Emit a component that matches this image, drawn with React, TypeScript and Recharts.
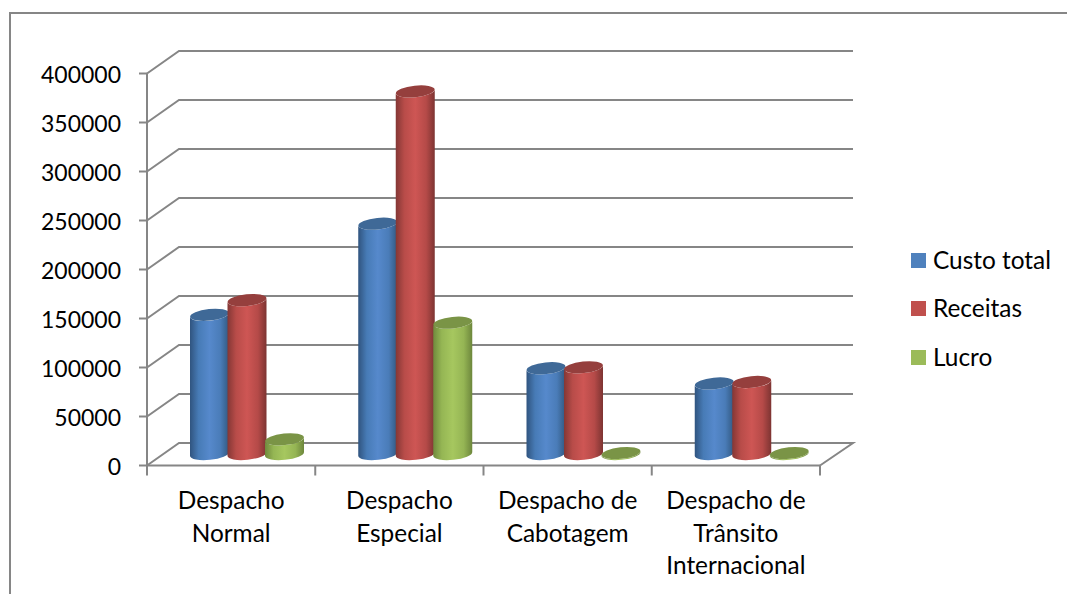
import React from "react";
import { BarChart, Bar, XAxis, YAxis, CartesianGrid, Legend } from "recharts";

const categories = ["Despacho Normal", "Despacho Especial", "Despacho de Cabotagem", "Despacho de Trânsito Internacional"];
const categoryLines = [
  ["Despacho", "Normal"],
  ["Despacho", "Especial"],
  ["Despacho de", "Cabotagem"],
  ["Despacho de", "Trânsito", "Internacional"],
];
const custoTotal = [142000, 235000, 87500, 72000];
const receitas = [157000, 370000, 88500, 73500];
const lucro = [15000, 134000, 1000, 1000];
const yTicks = [0, 50000, 100000, 150000, 200000, 250000, 300000, 350000, 400000];

const data = categories.map((name, i) => ({
  name,
  custo: custoTotal[i],
  receitas: receitas[i],
  lucro: lucro[i],
}));

const W = 1067;
const H = 594;
const PLOT_LEFT = 147;
const PLOT_RIGHT = 820;
const PLOT_TOP = 73.5;
const PLOT_BOTTOM = 465.5;
const LEGEND_W = 150;
const BAND = (PLOT_RIGHT - PLOT_LEFT) / categories.length;
const AXIS = "#868686";
const FONT = "Lato, Carlito, sans-serif";
const FS = 23;
const FS_TEXT = 24.4;

const palette = {
  blue: { id: "gBlue", main: "#4F81BD", top: "#3F6997", stops: ["#30547f", "#477bb6", "#5689cc", "#4a7cb8", "#325880"] },
  red: { id: "gRed", main: "#C0504D", top: "#953F3D", stops: ["#843735", "#b84c49", "#ce5654", "#b54a48", "#7d3432"] },
  green: { id: "gGreen", main: "#9BBB59", top: "#7A9446", stops: ["#6f8a3d", "#95b654", "#a6c75f", "#95b554", "#6d873c"] },
};

function Cylinder(props: any) {
  const { x, y, width, height, tone } = props;
  const p = palette[tone as keyof typeof palette];
  const rx = width / 2;
  const ry = 5.8;
  const rot = -6;
  const dy = rx * Math.sin((6 * Math.PI) / 180);
  const xl = x + 16;
  const xr = xl + width;
  const yt = y - 11.5;
  const yb = y + height - 11.5;
  const body = `M${xl},${yt + dy} L${xl},${yb + dy} A${rx},${ry} ${rot} 0 0 ${xr},${yb - dy} L${xr},${yt - dy} A${rx},${ry} ${rot} 0 1 ${xl},${yt + dy} Z`;
  return (
    <g>
      <path d={body} fill={`url(#${p.id})`} />
      <ellipse cx={xl + rx} cy={yt} rx={rx} ry={ry} fill={p.top} transform={`rotate(${rot} ${xl + rx} ${yt})`} />
    </g>
  );
}

function WallLine(props: any) {
  const { x1, x2, y1 } = props;
  const bx = x1 + 32;
  const by = y1 - 22.5;
  const isFloor = Math.abs(y1 - PLOT_BOTTOM) < 1;
  const d = `M${x1},${y1} L${bx},${by} L${x2 + 33},${by}` + (isFloor ? ` L${x2},${y1}` : "");
  return <path d={d} fill="none" stroke={AXIS} strokeWidth={2} />;
}

function CategoryTick(props: any) {
  const { x, index } = props;
  const lines = categoryLines[index] || [];
  const last = index === categories.length - 1;
  return (
    <g>
      <line x1={x - BAND / 2} x2={x - BAND / 2} y1={PLOT_BOTTOM} y2={PLOT_BOTTOM + 10} stroke={AXIS} strokeWidth={2} />
      {last && <line x1={x + BAND / 2} x2={x + BAND / 2} y1={PLOT_BOTTOM} y2={PLOT_BOTTOM + 10} stroke={AXIS} strokeWidth={2} />}
      <text x={x} textAnchor="middle" fontFamily={FONT} fontSize={FS_TEXT} fill="#000">
        {lines.map((l: string, i: number) => (
          <tspan key={i} x={x} y={PLOT_BOTTOM + 43.5 + i * 32.5}>{l}</tspan>
        ))}
      </text>
    </g>
  );
}

function ValueTick(props: any) {
  const { x, y, payload } = props;
  return (
    <text x={x} y={y + 9} textAnchor="end" fontFamily={FONT} fontSize={FS} fill="#000">
      {payload.value}
    </text>
  );
}

function LegendBox(props: any) {
  const items = props.payload || [];
  return (
    <div style={{ fontFamily: FONT, fontSize: FS_TEXT, color: "#000" }}>
      {items.map((it: any) => (
        <div key={it.value} style={{ height: 48.5, display: "flex", alignItems: "center" }}>
          <span style={{ display: "inline-block", width: 15, height: 15, background: it.color, marginRight: 7, position: "relative", top: 1 }} />
          <span>{it.value}</span>
        </div>
      ))}
    </div>
  );
}

export default function App() {
  return (
    <div style={{ position: "absolute", left: 0, top: 0, width: W, height: H, overflow: "hidden", background: "#fff" }}>
      <div style={{ position: "absolute", left: 9, top: 12, width: W, height: H, borderLeft: `2px solid ${AXIS}`, borderTop: `2px solid ${AXIS}` }} />
      <BarChart
        width={W}
        height={H}
        data={data}
        margin={{ top: PLOT_TOP, left: PLOT_LEFT - 60, right: W - PLOT_RIGHT - LEGEND_W, bottom: H - PLOT_BOTTOM - 30 }}
        barSize={39}
        barGap={-1.5}
        style={{ position: "absolute", left: 0, top: 0 }}
      >
        <defs>
          {Object.values(palette).map((p) => (
            <linearGradient key={p.id} id={p.id} x1="0" x2="1" y1="0" y2="0">
              <stop offset="0%" stopColor={p.stops[0]} />
              <stop offset="22%" stopColor={p.stops[1]} />
              <stop offset="50%" stopColor={p.stops[2]} />
              <stop offset="78%" stopColor={p.stops[3]} />
              <stop offset="100%" stopColor={p.stops[4]} />
            </linearGradient>
          ))}
        </defs>
        <CartesianGrid vertical={false} horizontal={(p: any) => <WallLine key={p.key} {...p} />} />
        <XAxis
          dataKey="name"
          height={30}
          interval={0}
          tickLine={false}
          axisLine={{ stroke: AXIS, strokeWidth: 2 }}
          tick={(p: any) => <CategoryTick {...p} />}
        />
        <YAxis
          width={60}
          domain={[0, 400000]}
          ticks={yTicks}
          interval={0}
          tickSize={8}
          tickMargin={18}
          axisLine={{ stroke: AXIS, strokeWidth: 2 }}
          tickLine={{ stroke: AXIS, strokeWidth: 2 }}
          tick={(p: any) => <ValueTick {...p} />}
        />
        <Legend
          layout="vertical"
          align="right"
          verticalAlign="middle"
          itemSorter={null}
          content={(p: any) => <LegendBox {...p} />}
          wrapperStyle={{ position: "absolute", left: 911, top: 235, width: LEGEND_W, right: "auto", bottom: "auto" }}
        />
        <Bar dataKey="custo" name="Custo total" fill={palette.blue.main} isAnimationActive={false} shape={(p: any) => <Cylinder {...p} tone="blue" />} />
        <Bar dataKey="receitas" name="Receitas" fill={palette.red.main} isAnimationActive={false} shape={(p: any) => <Cylinder {...p} tone="red" />} />
        <Bar dataKey="lucro" name="Lucro" fill={palette.green.main} isAnimationActive={false} shape={(p: any) => <Cylinder {...p} tone="green" />} />
      </BarChart>
    </div>
  );
}
